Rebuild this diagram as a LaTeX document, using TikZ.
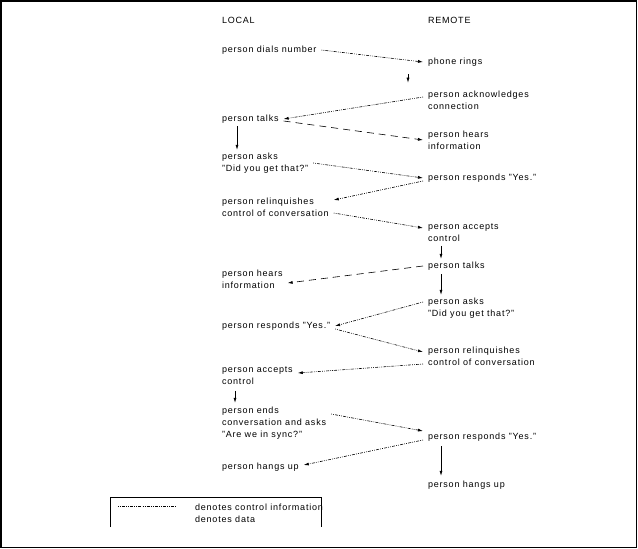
\documentclass[tikz,border=0pt]{standalone}
\usepackage{fontspec}
\setmainfont{Liberation Sans}[LetterSpace=9]
\usetikzlibrary{arrows.meta}
\begin{document}
\begin{tikzpicture}[x=1pt,y=-1pt,
  lbl/.style={anchor=west,inner sep=0pt,outer xsep=5pt,outer ysep=0pt,align=left,font=\fontsize{9}{12}\selectfont},
  ctrl/.style={-{Latex[length=5pt,width=3pt]},line width=0.6pt,dash pattern=on 0.8pt off 1.2pt on 0.8pt off 1.2pt on 3pt off 1.2pt},
  datal/.style={-{Latex[length=5pt,width=3pt]},line width=0.6pt,dash pattern=on 7pt off 5pt},
  flow/.style={-{Latex[length=5pt,width=3pt]},line width=0.6pt}]
\useasboundingbox (0,0) rectangle (638,549);
\draw[line width=1.5pt] (0.75,0.75) rectangle (636.5,547.5);

\node[lbl] (hl) at (217,20) {LOCAL};
\node[lbl] (hr) at (423,20) {REMOTE};

\node[lbl] (L1) at (217,50) {person dials number};
\node[lbl] (L2) at (217,119) {person talks};
\node[lbl] (L3) at (217,163) {person asks\\"Did you get that?"};
\node[lbl] (L4) at (217,207) {person relinquishes\\control of conversation};
\node[lbl] (L5) at (217,279) {person hears\\information};
\node[lbl] (L6) at (217,326) {person responds "Yes."};
\node[lbl] (L7) at (217,376) {person accepts\\control};
\node[lbl] (L8) at (217,423) {person ends\\conversation and asks\\"Are we in sync?"};
\node[lbl] (L9) at (217,467) {person hangs up};

\node[lbl] (R1) at (423,62) {phone rings};
\node[lbl] (R2) at (423,100) {person acknowledges\\connection};
\node[lbl] (R3) at (423,140) {person hears\\information};
\node[lbl] (R4) at (423,178) {person responds "Yes."};
\node[lbl] (R5) at (423,233) {person accepts\\control};
\node[lbl] (R6) at (423,266) {person talks};
\node[lbl] (R7) at (423,308) {person asks\\"Did you get that?"};
\node[lbl] (R8) at (423,356) {person relinquishes\\control of conversation};
\node[lbl] (R9) at (423,437) {person responds "Yes."};
\node[lbl] (R10) at (423,485) {person hangs up};

% control connectors
\draw[ctrl] (L1.east) -- (R1.west);
\draw[ctrl] ([yshift=3pt]R2.west) -- (L2.east);
\draw[ctrl] (L3.east) -- (R4.west);
\draw[ctrl] ([yshift=-3pt]R4.west) -- ([yshift=7pt]L4.east);
\draw[ctrl] ([yshift=-6pt]L4.east) -- ([yshift=5pt]R5.west);
\draw[ctrl] ([yshift=6pt]R7.west) -- (L6.east);
\draw[ctrl] ([yshift=-3pt]L6.east) -- ([yshift=4pt]R8.west);
\draw[ctrl] ([yshift=-8pt]R8.west) -- ([yshift=3pt]L7.east);
\draw[ctrl] ([yshift=9pt]L8.east) -- ([yshift=6pt]R9.west);
\draw[ctrl] ([yshift=-3pt]R9.west) -- ([yshift=2pt]L9.east);

% data connectors
\draw[datal] ([yshift=-2pt]L2.east) -- (R3.west);
\draw[datal] (R6.west) -- ([yshift=-4pt]L5.east);

% flow within a column
\draw[flow] ([xshift=20pt,yshift=-3pt]L2.south west) -- ([xshift=20pt,yshift=3pt]L3.north west);
\draw[flow] ([xshift=18pt,yshift=-6pt]L7.south west) -- ([xshift=18pt,yshift=4pt]L8.north west);
\draw[flow] ([xshift=-15pt,yshift=-8pt]R1.south west) -- ([xshift=-15pt,yshift=8pt]R2.north west);
\draw[flow] ([xshift=18pt,yshift=-4pt]R5.south west) -- ([xshift=18pt,yshift=3pt]R6.north west);
\draw[flow] ([xshift=18pt,yshift=-4pt]R6.south west) -- ([xshift=18pt,yshift=3pt]R7.north west);
\draw[flow] ([xshift=18pt,yshift=-5pt]R9.south west) -- ([xshift=18pt,yshift=5pt]R10.north west);

% legend
\draw[line width=0.8pt] (110,527) -- (110,497) -- (321,497) -- (321,527);
\coordinate (ls) at (118,506);
\coordinate (le) at (176,506);
\draw[line width=0.6pt,dash pattern=on 0.8pt off 1.2pt on 0.8pt off 1.2pt on 3pt off 1.2pt] (ls) -- (le);
\node[lbl,outer xsep=0pt] (lg1) at (195,507) {denotes control information};
\node[lbl,outer xsep=0pt] (lg2) at (195,519) {denotes data};
\end{tikzpicture}
\end{document}
